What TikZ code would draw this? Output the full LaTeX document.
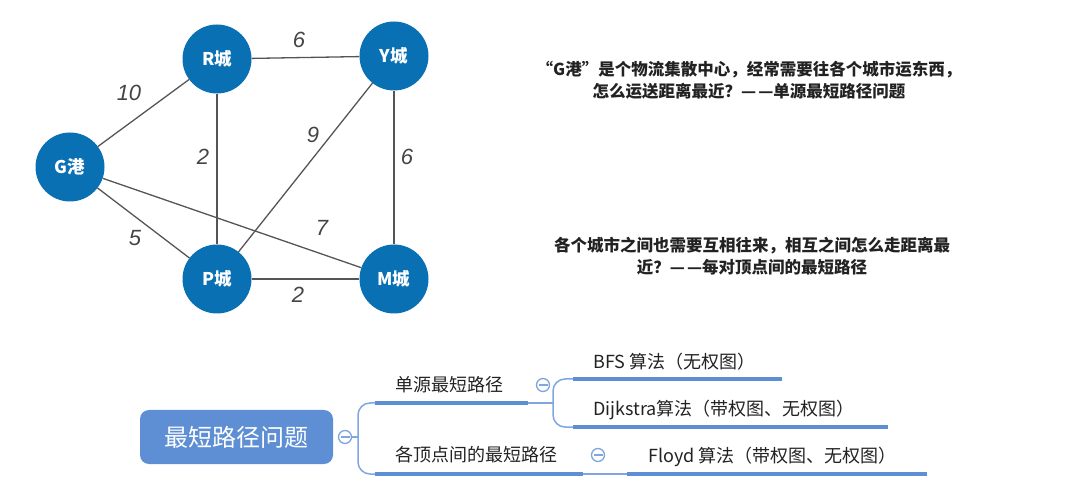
\documentclass[tikz,border=0pt]{standalone}
\usepackage{fontspec}
\setmainfont{Noto Sans CJK SC}
\newfontfamily\numfont{Liberation Sans}
\definecolor{cityblue}{HTML}{0A70B4}
\definecolor{edgegray}{HTML}{555555}
\definecolor{numgray}{HTML}{444444}
\definecolor{mmblue}{HTML}{5E8ED3}
\definecolor{mmthin}{HTML}{7FA6DE}
\definecolor{txt}{HTML}{222222}
\newcommand{\ddash}{—\hspace{2pt}—}
\begin{document}
\begin{tikzpicture}[x=1pt,y=-1pt,
  city/.style={circle,fill=cityblue,minimum size=69pt,inner sep=0pt,text=white,font=\fontsize{17.5}{17.5}\selectfont\bfseries},
  edge/.style={draw=edgegray,line width=1.3pt},
  elab/.style={font=\numfont\itshape\fontsize{22}{22}\selectfont,text=numgray,inner sep=0pt},
  desc/.style={font=\fontsize{16.5}{22}\selectfont\bfseries,text=txt,align=center,inner sep=0pt},
  mmtext/.style={font=\fontsize{18}{18}\selectfont,text=txt,inner sep=0pt,anchor=west},
  bar/.style={draw=mmblue,line width=4pt},
  thin/.style={draw=mmthin,line width=1.5pt},
  fold/.style={circle,draw=mmthin,line width=1.3pt,fill=white,minimum size=13pt,inner sep=0pt},
]
\useasboundingbox (0,0) rectangle (1085,494);
% graph
\node[city] (R) at (217,59) {R城};
\node[city] (Y) at (394,56) {Y城};
\node[city] (G) at (70,167) {G港};
\node[city] (P) at (217,279) {P城};
\node[city] (M) at (394,279) {M城};
\draw[edge] (G) -- (R);
\draw[edge] (G) -- (P);
\draw[edge] (G) -- (M);
\draw[edge] (R) -- (Y);
\draw[edge] (R) -- (P);
\draw[edge] (Y) -- (P);
\draw[edge] (Y) -- (M);
\draw[edge] (P) -- (M);
\node[elab] (l1) at (299,40) {6};
\node[elab] (l2) at (129,93) {10};
\node[elab] (l3) at (203,157) {2};
\node[elab] (l4) at (313,135) {9};
\node[elab] (l5) at (407,157) {6};
\node[elab] (l6) at (322,228) {7};
\node[elab] (l7) at (135,238) {5};
\node[elab] (l8) at (298,295) {2};
% descriptions
\node[desc] (d1) at (749,80) {“G港”是个物流集散中心，经常需要往各个城市运东西，\\怎么运送距离最近？\ddash 单源最短路径问题};
\node[desc] (d2) at (752,256) {各个城市之间也需要互相往来，相互之间怎么走距离最\\近？\ddash 每对顶点间的最短路径};
% mind map
\node[fill=mmblue,rounded corners=9pt,minimum width=193pt,minimum height=54pt,text=white,font=\fontsize{24}{24}\selectfont] (root) at (236.5,437) {最短路径问题};
\node[fold] (f0) at (345,437) {};
\draw[mmthin,line width=1.3pt] (340.5,437) -- (349.5,437);
\coordinate (s1) at (375,403);
\coordinate (e1) at (528,403);
\coordinate (s2) at (375,474);
\coordinate (e2) at (583,474);
\draw[thin] (f0.east) -- (358,437);
\draw[thin,rounded corners=12pt] (358,437) |- (s1);
\draw[thin,rounded corners=12pt] (358,437) |- (s2);
\draw[bar] (s1) -- (e1);
\draw[bar] (s2) -- (e2);
\node[mmtext] (t1) at (395,385) {单源最短路径};
\node[mmtext] (t2) at (395,455) {各顶点间的最短路径};
\node[fold] (f1) at (543,385) {};
\draw[mmthin,line width=1.3pt] (538.5,385) -- (547.5,385);
\node[fold] (f2) at (598,455) {};
\draw[mmthin,line width=1.3pt] (593.5,455) -- (602.5,455);
% second level
\coordinate (b1) at (573,379);
\coordinate (b1e) at (782,379);
\coordinate (b2) at (573,427);
\coordinate (b2e) at (888,427);
\coordinate (b3) at (627,474);
\coordinate (b3e) at (927,474);
\draw[thin] (e1) -- (553,403);
\draw[thin,rounded corners=12pt] (553,403) |- (b1);
\draw[thin,rounded corners=12pt] (553,403) |- (b2);
\draw[thin] (e2) -- (b3);
\draw[bar] (b1) -- (b1e);
\draw[bar] (b2) -- (b2e);
\draw[bar] (b3) -- (b3e);
\node[mmtext] (t3) at (593,362) {BFS 算法（无权图）};
\node[mmtext] (t4) at (593,410) {Dijkstra算法（带权图、无权图）};
\node[mmtext] (t5) at (648,457) {Floyd 算法（带权图、无权图）};
\end{tikzpicture}
\end{document}
